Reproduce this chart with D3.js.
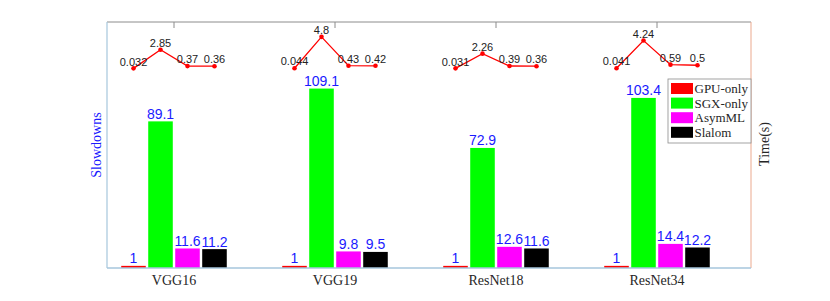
<!DOCTYPE html>
<html>
<head>
<meta charset="utf-8">
<script src="https://cdn.jsdelivr.net/npm/d3@7"></script>
<style>
  body { margin: 0; background: #fff; }
</style>
</head>
<body>
<svg id="chart" width="830" height="301"></svg>
<script>
const categories = ['VGG16', 'VGG19', 'ResNet18', 'ResNet34'];
const seriesNames = ['GPU-only', 'SGX-only', 'AsymML', 'Slalom'];
const seriesColors = ['#ff0000', '#00ff00', '#ff00ff', '#000000'];
const gpuOnly = [1, 1, 1, 1];
const sgxOnly = [89.1, 109.1, 72.9, 103.4];
const asymML = [11.6, 9.8, 12.6, 14.4];
const slalom = [11.2, 9.5, 11.6, 12.2];
const timesVGG16 = [0.032, 2.85, 0.37, 0.36];
const timesVGG19 = [0.044, 4.8, 0.43, 0.42];
const timesResNet18 = [0.031, 2.26, 0.39, 0.36];
const timesResNet34 = [0.041, 4.24, 0.59, 0.5];

const slowdowns = [gpuOnly, sgxOnly, asymML, slalom];
const times = [timesVGG16, timesVGG19, timesResNet18, timesResNet34];

const svg = d3.select('#chart');
const plotLeft = 107, plotRight = 751, plotTop = 22, plotBottom = 268;
const sans = '"Liberation Sans", Arial, sans-serif';
const serif = '"Liberation Serif", "Times New Roman", serif';

// scales
const x = d3.scalePoint().domain(categories).range([174, 657]);
const xs = d3.scaleBand().domain(seriesNames).range([-55.2, 55.2]).paddingInner(0.09).paddingOuter(0.09);
const y = d3.scaleLinear().domain([0, 150]).range([plotBottom, plotTop]);
const yTime = d3.scaleLinear().domain([-30.2, 7.05]).range([plotBottom, plotTop]);

// frame
svg.append('line').attr('x1', plotLeft).attr('x2', plotRight).attr('y1', plotTop).attr('y2', plotTop)
    .attr('stroke', '#8c8c8c').attr('stroke-width', 1);
svg.append('line').attr('x1', plotRight).attr('x2', plotRight).attr('y1', plotTop).attr('y2', plotBottom)
    .attr('stroke', '#eba98e').attr('stroke-width', 1);
categories.forEach(c => {
    svg.append('line').attr('x1', x(c)).attr('x2', x(c)).attr('y1', plotTop).attr('y2', plotTop + 6)
        .attr('stroke', '#8c8c8c').attr('stroke-width', 1);
});

// bars
const bars = [];
slowdowns.forEach((vals, si) => vals.forEach((v, ci) => bars.push({ s: si, c: ci, v })));

svg.append('g').selectAll('rect').data(bars).join('rect')
    .attr('x', d => x(categories[d.c]) + xs(seriesNames[d.s]))
    .attr('width', xs.bandwidth())
    .attr('y', d => y(d.v) - 0.5)
    .attr('height', d => plotBottom - y(d.v) + 0.5)
    .attr('fill', d => seriesColors[d.s]);

svg.append('g').selectAll('text').data(bars).join('text')
    .attr('x', d => x(categories[d.c]) + xs(seriesNames[d.s]) + xs.bandwidth() / 2)
    .attr('y', d => y(d.v) - 3)
    .attr('text-anchor', 'middle')
    .style('font-family', sans)
    .style('font-size', '14px')
    .style('fill', '#1a1aff')
    .text(d => d.v);

// axes lines (left / bottom)
svg.append('line').attr('x1', plotLeft).attr('x2', plotLeft).attr('y1', plotTop).attr('y2', plotBottom)
    .attr('stroke', '#a6c6dc').attr('stroke-width', 1.2);
svg.append('line').attr('x1', plotLeft).attr('x2', plotRight).attr('y1', plotBottom).attr('y2', plotBottom)
    .attr('stroke', '#a6c6dc').attr('stroke-width', 1.6);

// time lines
const line = d3.line().x(d => d[0]).y(d => yTime(d[1]));
times.forEach((vals, ci) => {
    const pts = vals.map((v, si) => [x(categories[ci]) + xs(seriesNames[si]) + xs.bandwidth() / 2, v]);
    const g = svg.append('g');
    g.append('path').attr('d', line(pts)).attr('fill', 'none')
        .attr('stroke', '#ff0000').attr('stroke-width', 1.3);
    g.selectAll('circle').data(pts).join('circle')
        .attr('cx', d => d[0]).attr('cy', d => yTime(d[1])).attr('r', 2.3)
        .attr('fill', '#ff0000');
    g.selectAll('text').data(pts).join('text')
        .attr('x', d => d[0])
        .attr('y', d => yTime(d[1]) - 2.8)
        .attr('text-anchor', 'middle')
        .style('font-family', sans)
        .style('font-size', '11px')
        .style('fill', '#222')
        .text(d => d[1]);
});

// category labels
svg.append('g').selectAll('text').data(categories).join('text')
    .attr('x', d => x(d))
    .attr('y', 284.5)
    .attr('text-anchor', 'middle')
    .style('font-family', serif)
    .style('font-size', '14px')
    .style('fill', '#262626')
    .text(d => d);

// axis titles
svg.append('text')
    .attr('transform', 'translate(101,145) rotate(-90)')
    .attr('text-anchor', 'middle')
    .style('font-family', serif)
    .style('font-size', '14px')
    .style('fill', '#1a1aff')
    .text('Slowdowns');
svg.append('text')
    .attr('transform', 'translate(769,144) rotate(-90)')
    .attr('text-anchor', 'middle')
    .style('font-family', serif)
    .style('font-size', '14px')
    .style('fill', '#262626')
    .text('Time(s)');

// legend
const lg = svg.append('g').attr('transform', 'translate(668,79)');
lg.append('rect').attr('width', 83).attr('height', 64)
    .attr('fill', '#fff').attr('stroke', '#8c8c8c').attr('stroke-width', 0.8);
seriesNames.forEach((n, i) => {
    lg.append('rect').attr('x', 3).attr('y', 4 + i * 14.6).attr('width', 22).attr('height', 11)
        .attr('fill', seriesColors[i]);
    lg.append('text').attr('x', 26.5).attr('y', 14 + i * 14.6)
        .style('font-family', serif).style('font-size', '13px').style('fill', '#262626')
        .text(n);
});
</script>
</body>
</html>
